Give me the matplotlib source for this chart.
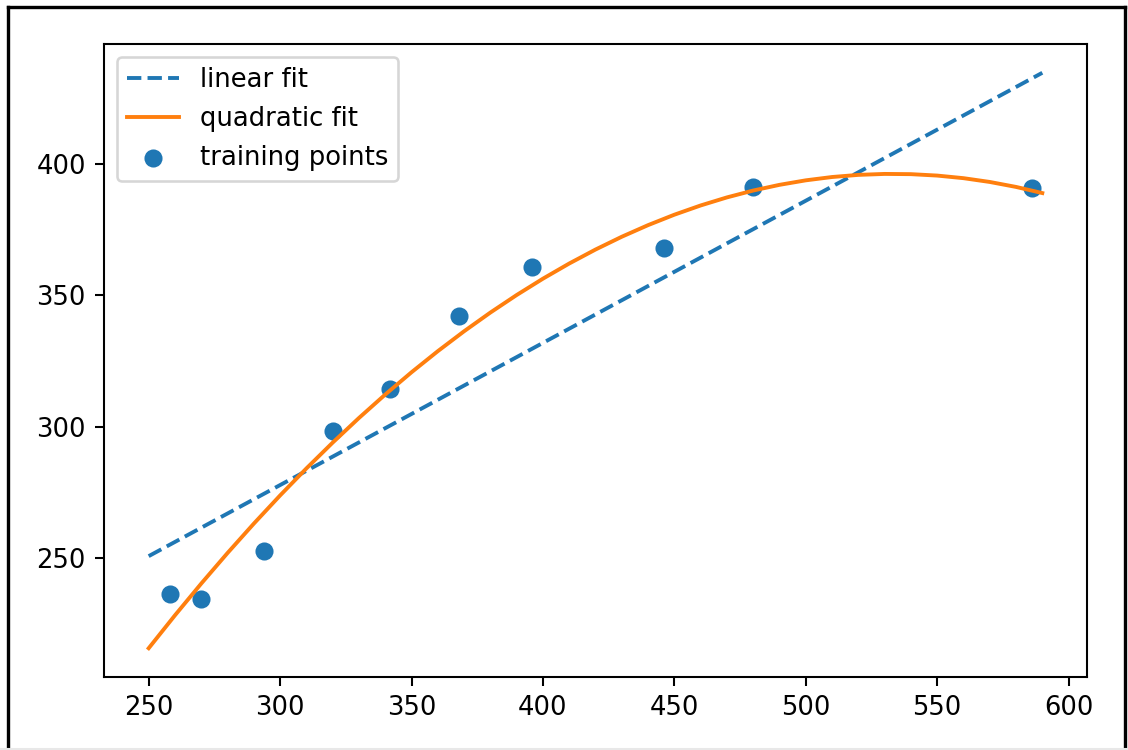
import numpy as np
import matplotlib
matplotlib.use("Agg")
import matplotlib.pyplot as plt
from matplotlib.lines import Line2D

X = np.array([258.0, 270.0, 294.0, 320.0, 342.0, 368.0, 396.0, 446.0, 480.0, 586.0])
y = np.array([236.4, 234.4, 252.8, 298.6, 314.2, 342.2, 360.8, 368.0, 391.2, 390.8])
X_fit = np.arange(250, 600, 10)

lin_coef = np.polyfit(X, y, 1)
quad_coef = np.polyfit(X, y, 2)
y_lin_fit = np.polyval(lin_coef, X_fit)
y_quad_fit = np.polyval(quad_coef, X_fit)

dpi = 186
fig = plt.figure(figsize=(1128 / dpi, 750 / dpi), dpi=dpi)
ax = fig.add_axes([104 / 1128, 1 - 677 / 750, (1087 - 104) / 1128, (677 - 44) / 750])

ax.plot(X_fit, y_lin_fit, label='linear fit', linestyle='--')
ax.plot(X_fit, y_quad_fit, label='quadratic fit')
ax.scatter(X, y, label='training points')
ax.legend(loc='upper left')

# screenshot frame
W, H = 1128, 750
for (x0, y0, x1, y1) in [(7.5, 0, 7.5, H - 6.5), (7.5, H - 6.5, 1125, H - 6.5), (1125, H - 6.5, 1125, 0)]:
    fig.add_artist(Line2D([x0 / W, x1 / W], [y0 / H, y1 / H], color='black', lw=1.3,
                          transform=fig.transFigure))
fig.add_artist(Line2D([0, 1], [1.5 / H, 1.5 / H], color='#e8e8e8', lw=0.8, transform=fig.transFigure))

fig.savefig('out.png', dpi=dpi)
